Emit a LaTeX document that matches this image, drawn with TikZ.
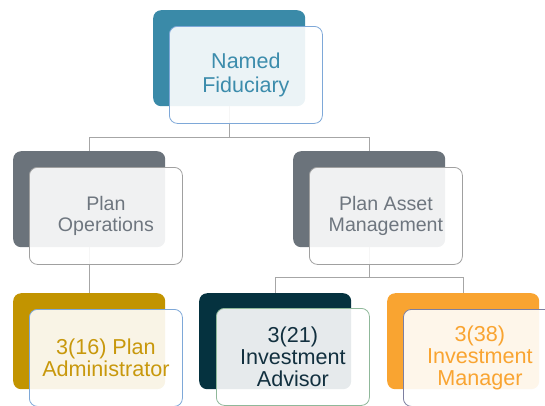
\documentclass[tikz,border=0pt]{standalone}
\usepackage{fontspec}
\setmainfont{Liberation Sans}
\definecolor{cteal}{HTML}{3A8AA8}
\definecolor{tteal}{HTML}{3C8CAC}
\definecolor{cgray}{HTML}{6B737B}
\definecolor{tgray}{HTML}{6E767F}
\definecolor{cgold}{HTML}{C29400}
\definecolor{tgold}{HTML}{C8980C}
\definecolor{cnavy}{HTML}{05323F}
\definecolor{tnavy}{HTML}{12303F}
\definecolor{corange}{HTML}{F9A431}
\definecolor{torange}{HTML}{F9A431}
\definecolor{bblue}{HTML}{7EA8D8}
\definecolor{bgray}{HTML}{A0A0A0}
\definecolor{bgreen}{HTML}{8FB89A}
\definecolor{bpurple}{HTML}{7D7FA0}
\definecolor{conncol}{HTML}{A6A6A6}
\tikzset{
  backbox/.style={rectangle, rounded corners=8pt, minimum width=152pt, minimum height=96pt, anchor=north west, inner sep=0pt, draw=none, fill=#1},
  frontbox/.style={rectangle, rounded corners=8pt, minimum width=153pt, minimum height=97pt, anchor=north west, inner sep=0pt, draw=#1, line width=0.8pt, fill=white, fill opacity=0.9, text opacity=1, align=center},
  conn/.style={draw=conncol, line width=1.3pt},
  lvA/.style={font=\fontsize{21.5pt}{23.5pt}\selectfont},
  lvB/.style={font=\fontsize{19.6pt}{20.5pt}\selectfont},
  lvC/.style={font=\fontsize{21.6pt}{21.8pt}\selectfont}
}
\begin{document}
\begin{tikzpicture}[x=1pt,y=-1pt]
\useasboundingbox (0,0) rectangle (545,405);
\clip (0,0) rectangle (545,405);
% back boxes
\node[backbox=cteal] (nf) at (153,10) {};
\node[backbox=cgray] (po) at (13,151) {};
\node[backbox=cgray] (pa) at (293,151) {};
\node[backbox=cgold] (pad) at (13,293) {};
\node[backbox=cnavy] (ia) at (199,293) {};
\node[backbox=corange] (im) at (387,293) {};
% connectors
\coordinate (nfbar) at ([yshift=-31pt]nf.south);
\coordinate (pabar) at ([yshift=-30pt]pa.south);
\draw[conn] (nf.south) -- (nfbar);
\draw[conn] (nfbar) -| (po.north);
\draw[conn] (nfbar) -| (pa.north);
\draw[conn] (po.south) -- (pad.north);
\draw[conn] (pa.south) -- (pabar);
\draw[conn] (pabar) -| (ia.north);
\draw[conn] (pabar) -| (im.north);
% front boxes
\node[frontbox=bblue, lvA, text=tteal] (nff) at ([shift={(16,16)}]nf.north west) {Named\\Fiduciary};
\node[frontbox=bgray, lvB, text=tgray] (pof) at ([shift={(16,16)}]po.north west) {Plan\\Operations};
\node[frontbox=bgray, lvB, text=tgray] (paf) at ([shift={(16,16)}]pa.north west) {Plan Asset\\Management};
\node[frontbox=bblue, lvC, text=tgold] (padf) at ([shift={(16,16)}]pad.north west) {3(16) Plan\\Administrator};
\node[frontbox=bgreen, lvC, text=tnavy] (iaf) at ([shift={(17,15)}]ia.north west) {3(21)\\Investment\\Advisor};
\node[frontbox=bpurple, lvC, text=torange] (imf) at ([shift={(16,16)}]im.north west) {3(38)\\Investment\\Manager};
\end{tikzpicture}
\end{document}
